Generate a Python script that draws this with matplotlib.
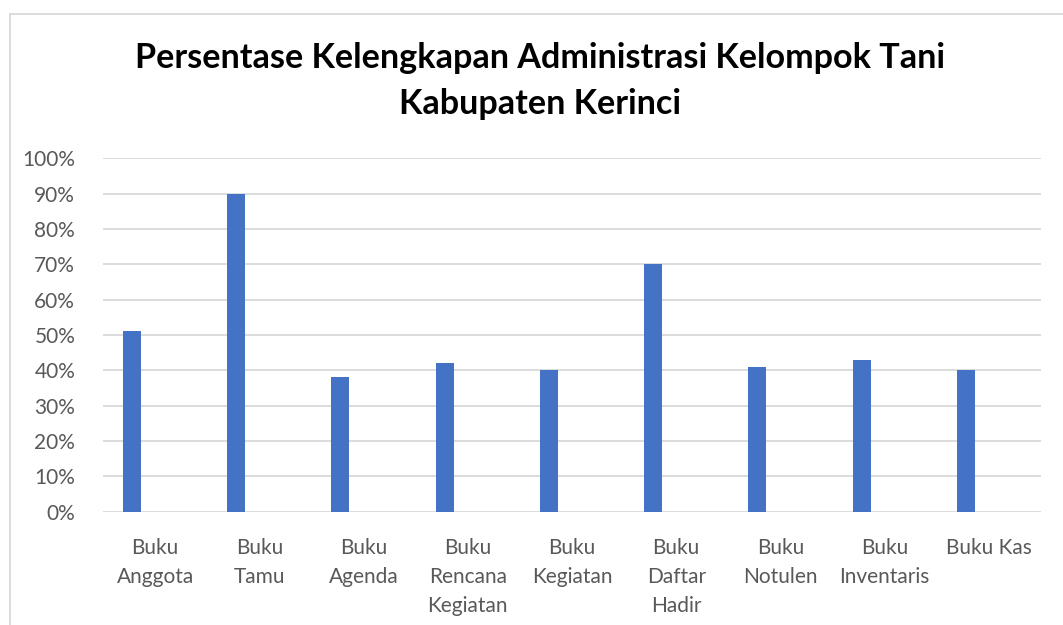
import matplotlib
matplotlib.use("Agg")
import matplotlib.pyplot as plt
from matplotlib.lines import Line2D
import numpy as np

categories = ["Buku\nAnggota", "Buku\nTamu", "Buku\nAgenda", "Buku\nRencana\nKegiatan",
              "Buku\nKegiatan", "Buku\nDaftar\nHadir", "Buku\nNotulen", "Buku\nInventaris", "Buku Kas"]
values = [51, 90, 38, 42, 40, 70, 41, 43, 40]
yticks = [0, 10, 20, 30, 40, 50, 60, 70, 80, 90, 100]
ytick_labels = [f"{v}%" for v in yticks]
title = "Persentase Kelengkapan Administrasi Kelompok Tani\nKabupaten Kerinci"

plt.rcParams['font.family'] = ['Lato', 'DejaVu Sans']

fig = plt.figure(figsize=(10.63, 6.25), dpi=100)
ax = fig.add_axes([103/1063, 113.3/625, (1041-103)/1063, (511.7-158.3)/625])

x = np.arange(len(categories))
ax.bar(x - 0.222, values, width=0.173, color="#4472C4", zorder=3)

ax.set_xlim(-0.5, len(categories) - 0.5)
ax.set_ylim(0, 100)
ax.set_yticks(yticks)
ax.set_yticklabels(ytick_labels)
ax.set_xticks(x)
ax.set_xticklabels(categories, linespacing=1.55)
ax.yaxis.grid(True, color="#d9d9d9", linewidth=1.3, zorder=0)
for s in ax.spines.values():
    s.set_visible(False)
ax.tick_params(axis='both', length=0, colors="#595959", labelsize=15)
ax.tick_params(axis='y', pad=20)
ax.tick_params(axis='x', pad=19)

fig.text(540/1063, 1 - 81/625, title, ha="center", va="center", fontsize=24.6,
         fontweight="bold", color="black", linespacing=1.55)

fig.add_artist(Line2D([10/1063, 10/1063], [0, 1 - 14/625], transform=fig.transFigure,
                      color="#d9d9d9", linewidth=1.3))
fig.add_artist(Line2D([10/1063, 1], [1 - 14/625, 1 - 14/625], transform=fig.transFigure,
                      color="#d9d9d9", linewidth=1.3))

fig.savefig("out.png", dpi=100)
